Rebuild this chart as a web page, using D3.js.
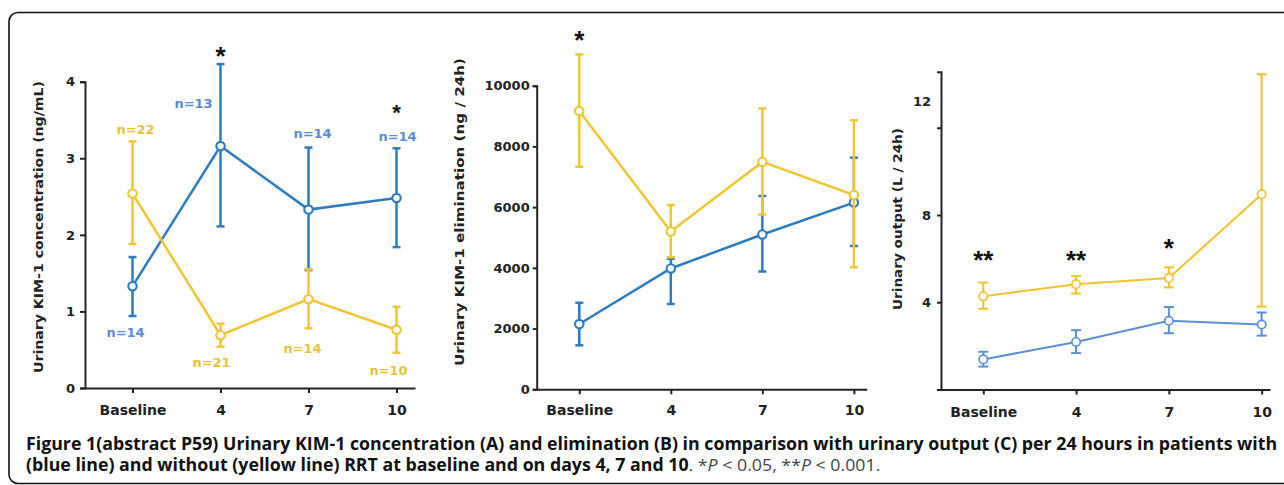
<!DOCTYPE html>
<html lang="en">
<head>
<meta charset="UTF-8">
<title>Urinary KIM-1</title>
<script src="https://cdn.jsdelivr.net/npm/d3@7/dist/d3.min.js"></script>
<style>
body { margin: 0; background: #fff; }
svg { display: block; }
.tick text { font-family: "DejaVu Sans", sans-serif; font-weight: bold; fill: #222; }
.tick line, .domain { stroke: #222; stroke-width: 2; }
</style>
</head>
<body>
<svg width="1284" height="485"></svg>
<script>
// x categories, shared by all three panels
var days = ['Baseline', '4', '7', '10'];

// A: urinary KIM-1 concentration (ng/mL)
var concRRT = [1.33, 3.16, 2.33, 2.48];
var concRRTLo = [0.94, 2.11, 1.54, 1.84];
var concRRTHi = [1.71, 4.23, 3.14, 3.13];
var concNoRRT = [2.54, 0.69, 1.16, 0.76];
var concNoRRTLo = [1.88, 0.54, 0.78, 0.46];
var concNoRRTHi = [3.22, 0.84, 1.55, 1.06];
var nRRT = [14, 13, 14, 14];
var nNoRRT = [22, 21, 14, 10];

// B: urinary KIM-1 elimination (ng / 24h)
var elimRRT = [2150, 3980, 5100, 6150];
var elimRRTLo = [1450, 2810, 3880, 4720];
var elimRRTHi = [2850, 4300, 6370, 7630];
var elimNoRRT = [9170, 5200, 7490, 6400];
var elimNoRRTLo = [7330, 4350, 5760, 4020];
var elimNoRRTHi = [11030, 6070, 9250, 8860];

// C: urinary output (L / 24h)
var outRRT = [1.38, 2.18, 3.15, 2.98];
var outRRTLo = [1.05, 1.67, 2.58, 2.47];
var outRRTHi = [1.73, 2.72, 3.78, 3.53];
var outNoRRT = [4.27, 4.83, 5.11, 8.95];
var outNoRRTLo = [3.7, 4.4, 4.68, 3.8];
var outNoRRTHi = [4.9, 5.2, 5.6, 14.45];

var blue = '#2c7dbf', yellow = '#f0c633';
var blueC = '#5b8fd6', yellowC = '#f1c42c';
var nBlue = '#5a8cd4', nYellow = '#e9c23c';

var svg = d3.select('svg');

// frame
svg.append('rect')
    .attr('x', 9).attr('y', 12.5).attr('width', 1300).attr('height', 471)
    .attr('rx', 9).attr('fill', 'none').attr('stroke', '#111').attr('stroke-width', 1.6);

function panel(o) {
    var g = svg.append('g');
    var x = d3.scaleLinear().domain(o.xDomain).range([o.left, o.right]);
    var y = d3.scaleLinear().domain(o.yDomain).range([o.bottom, o.top]);

    var xa = g.append('g').attr('transform', 'translate(0,' + o.bottom + ')')
        .call(d3.axisBottom(x).tickValues([0, 1, 2, 3]).tickFormat(function(d) { return days[d]; })
            .tickSize(5).tickSizeOuter(0).tickPadding(o.xPad));
    xa.selectAll('text').style('font-size', '14px');

    var ya = g.append('g').attr('transform', 'translate(' + o.left + ',0)')
        .call(d3.axisLeft(y).tickValues(o.yTicks).tickFormat(o.yFormat)
            .tickSize(o.ySize).tickSizeOuter(o.ySize).tickPadding(o.yPad));
    ya.selectAll('text').style('font-size', '13px');
    if (o.tweak) o.tweak(ya, y);

    g.append('text')
        .attr('transform', 'rotate(-90)')
        .attr('x', -o.titleY).attr('y', o.titleX)
        .attr('text-anchor', 'middle').attr('dominant-baseline', 'central')
        .style('font-family', '"DejaVu Sans", sans-serif').style('font-weight', 'bold')
        .style('font-size', '12px').attr('fill', '#222')
        .attr('textLength', o.titleLen).attr('lengthAdjust', 'spacingAndGlyphs')
        .text(o.title);

    o.series.forEach(function(s) {
        var pts = s.v.map(function(v, i) { return [x(i), y(v)]; });
        g.append('path').attr('d', d3.line()(pts))
            .attr('fill', 'none').attr('stroke', s.color).attr('stroke-width', o.lw);
        var eb = g.append('g').attr('stroke', s.color).attr('stroke-width', o.lw);
        s.v.forEach(function(v, i) {
            var cx = x(i);
            eb.append('line').attr('x1', cx).attr('x2', cx).attr('y1', y(s.lo[i])).attr('y2', y(s.hi[i]));
            eb.append('line').attr('x1', cx - o.cap).attr('x2', cx + o.cap).attr('y1', y(s.lo[i])).attr('y2', y(s.lo[i]));
            eb.append('line').attr('x1', cx - o.cap).attr('x2', cx + o.cap).attr('y1', y(s.hi[i])).attr('y2', y(s.hi[i]));
        });
        g.selectAll(null).data(pts).enter().append('circle')
            .attr('cx', function(d) { return d[0]; }).attr('cy', function(d) { return d[1]; })
            .attr('r', o.r).attr('fill', '#fff').attr('stroke', s.color).attr('stroke-width', o.lw * 0.85);
    });

    (o.labels || []).forEach(function(l) {
        g.append('text').attr('x', x(l.i) + l.dx).attr('y', y(l.v))
            .attr('text-anchor', 'middle').attr('dominant-baseline', 'central')
            .style('font-family', '"DejaVu Sans", sans-serif').style('font-weight', 'bold')
            .style('font-size', '13px').attr('fill', l.color).text(l.t);
    });

    // significance marks; the glyph sits high in its em box, so the baseline is pushed down
    (o.stars || []).forEach(function(s) {
        var fs = s.fs || 26;
        g.append('text').attr('x', x(s.i)).attr('y', y(s.v) + fs * 0.55)
            .attr('text-anchor', 'middle')
            .style('font-family', '"Liberation Sans", sans-serif').style('font-weight', 'bold')
            .style('font-size', fs + 'px').attr('fill', '#111').text(s.t);
    });
}

// panel A
var labelsA = [];
var nRRTpos = [0.72, 3.72, 3.33, 3.28], nRRTdx = [-7, -27, 4, 1];
var nNoPos = [3.38, 0.33, 0.52, 0.23], nNoDx = [3, -9, -6, -8];
nRRT.forEach(function(n, i) { labelsA.push({ i: i, v: nRRTpos[i], dx: nRRTdx[i], t: 'n=' + n, color: nBlue }); });
nNoRRT.forEach(function(n, i) { labelsA.push({ i: i, v: nNoPos[i], dx: nNoDx[i], t: 'n=' + n, color: nYellow }); });

panel({
    left: 85, right: 415, top: 81.7, bottom: 388,
    xDomain: [-0.54, 3.21], yDomain: [0, 4], yTicks: [0, 1, 2, 3, 4], yFormat: d3.format('d'),
    xPad: 12, ySize: 5, yPad: 5,
    title: 'Urinary KIM-1 concentration (ng/mL)', titleX: 39, titleY: 227, titleLen: 292,
    lw: 2.5, r: 4.2, cap: 4,
    series: [
        { v: concRRT, lo: concRRTLo, hi: concRRTHi, color: blue },
        { v: concNoRRT, lo: concNoRRTLo, hi: concNoRRTHi, color: yellow }
    ],
    labels: labelsA,
    stars: [{ i: 1, v: 4.41, t: '*' }, { i: 3, v: 3.66, t: '*', fs: 22 }]
});

// panel B
panel({
    left: 536.7, right: 866.7, top: 85.7, bottom: 389.3,
    xDomain: [-0.465, 3.14], yDomain: [0, 10000], yTicks: [0, 2000, 4000, 6000, 8000, 10000], yFormat: d3.format('d'),
    xPad: 11, ySize: 4, yPad: 3,
    title: 'Urinary KIM-1 elimination (ng / 24h)', titleX: 460, titleY: 212, titleLen: 308,
    lw: 2.5, r: 4.2, cap: 4,
    series: [
        { v: elimRRT, lo: elimRRTLo, hi: elimRRTHi, color: blue },
        { v: elimNoRRT, lo: elimNoRRTLo, hi: elimNoRRTHi, color: yellow }
    ],
    stars: [{ i: 0, v: 11680, t: '*' }]
});

// panel C
panel({
    left: 941, right: 1270, top: 71.7, bottom: 389.5,
    xDomain: [-0.456, 3.09], yDomain: [0, 14.57], yTicks: [4, 8, 12], yFormat: d3.format('d'),
    xPad: 13, ySize: 4, yPad: 6,
    title: 'Urinary output (L / 24h)', titleX: 898, titleY: 219, titleLen: 182,
    lw: 2, r: 4.2, cap: 5,
    tweak: function(ya, y) {
        // the "12" label sits above its tick in the original
        ya.selectAll('.tick').filter(function(d) { return d === 12; }).select('text').attr('dy', '-1.7em');
    },
    series: [
        { v: outRRT, lo: outRRTLo, hi: outRRTHi, color: blueC },
        { v: outNoRRT, lo: outNoRRTLo, hi: outNoRRTHi, color: yellowC }
    ],
    stars: [{ i: 0, v: 6.17, t: '**' }, { i: 1, v: 6.17, t: '**' }, { i: 2, v: 6.72, t: '*' }]
});

// caption
var cap = svg.append('g').style('font-family', '"Open Sans", sans-serif').style('font-size', '17px');
var l1 = cap.append('g');
var t1 = l1.append('text').attr('y', 0).style('font-weight', 'bold').attr('fill', '#111')
    .text('Figure 1(abstract P59) Urinary KIM-1 concentration (A) and elimination (B) in comparison with urinary output (C) per 24 hours in patients with');
var k = 1252 / t1.node().getComputedTextLength();
l1.attr('transform', 'translate(26,449.5) scale(' + k + ',1)');

var l2 = cap.append('g').attr('transform', 'translate(26,471) scale(' + k + ',1)');
var t2 = l2.append('text').attr('y', 0);
t2.append('tspan').style('font-weight', 'bold').attr('fill', '#111')
    .text('(blue line) and without (yellow line) RRT at baseline and on days 4, 7 and 10');
var rest = [['. *', false], ['P', true], [' < 0.05, **', false], ['P', true], [' < 0.001.', false]];
rest.forEach(function(r) {
    t2.append('tspan').attr('fill', '#444').style('font-weight', 'normal')
        .style('font-style', r[1] ? 'italic' : 'normal').text(r[0]);
});
</script>
</body>
</html>
